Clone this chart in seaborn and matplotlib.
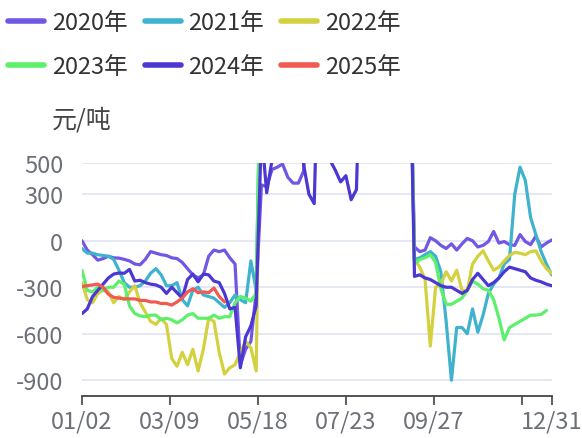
import numpy as np
import pandas as pd
import matplotlib
matplotlib.use("Agg")
import matplotlib.pyplot as plt
import seaborn as sns
from matplotlib.lines import Line2D

nan = np.nan

# ---------------- data ----------------
n_days = 268
day_step = 3
days = list(range(0, n_days, day_step))          # 90 sampled category positions

tick_pos = [0, 50, 100, 150, 200, 250, 267]
tick_labels = ["01/02", "03/09", "05/18", "07/23", "09/27", "", "12/31"]

y_ticks = [500, 300, 0, -300, -600, -900]

years = ["2020年", "2021年", "2022年", "2023年", "2024年", "2025年"]
colors = ["#7157e3", "#3fb3cd", "#d3d13f", "#5cf06b", "#4b38d3", "#f15a50"]

v2020 = ([0, -60, -90, -125, -115, -100, -110, -112, -120, -130, -150, -155, -120, -70,
          -80, -90, -95, -110, -115, -140, -180, -220, -240, -220, -100, -60, -70, -60,
          -110, -150, -800, -700, -650, -330]
         + [360, 350, 460, 475, 495, 410, 372, 372, 450, 1500]
         + [nan] * 18 + [1500]
         + [-40, -70, -60, 20, 0, -30, -50, -20, -60, -20, 15, 0, -40, -30, -5, 60, -15,
            -5, -25, -30, 40, -5, -25, 30, -40, -15, 5])

v2021 = ([-50, -80, -80, -90, -95, -100, -120, -190, -270, -300, -300, -290, -260, -210,
          -180, -220, -290, -290, -270, -380, -420, -320, -300, -350, -360, -370, -400,
          -430, -400, -350, -380, -400, -130, -320]
         + [1500] + [nan] * 27 + [1500]
         + [-120, -110, -90, -70, -100, -200, -520, -900, -560, -560, -600, -440, -590,
            -480, -340, -280, -240, -150, -120, 300, 475, 390, 150, 40, -70, -150, -220])

v2022 = ([-270, -380, -400, -340, -320, -330, -400, -360, -380, -330, -290, -400, -460,
          -520, -540, -500, -540, -760, -810, -720, -800, -700, -840, -700, -500, -520,
          -720, -860, -820, -800, -720, -650, -690, -840]
         + [1500] + [nan] * 27 + [1500]
         + [-120, -170, -250, -680, -300, -280, -200, -260, -190, -320, -320, -150, -100,
            -65, -130, -190, -170, -130, -95, -75, -80, -90, -70, -65, -130, -180, -210])

v2023 = ([-190, -320, -330, -300, -320, -300, -300, -260, -280, -420, -470, -485, -490,
          -480, -480, -510, -500, -510, -530, -510, -480, -470, -500, -500, -500, -480,
          -500, -490, -490, -400, -360, -370, -390, -340]
         + [1500] + [nan] * 27 + [1500]
         + [-150, -120, -110, -90, -140, -310, -410, -410, -390, -370, -320, -260, -280,
            -310, -320, -380, -500, -640, -560, -540, -520, -500, -480, -480, -475, -450,
            nan])

v2024 = ([-470, -440, -360, -320, -280, -240, -215, -208, -210, -185, -260, -255, -270,
          -280, -285, -300, -340, -300, -335, -370, -250, -215, -265, -215, -220, -260,
          -270, -340, -440, -430, -820, -620, -550, -420]
         + [700, 310, 520, 1500, nan, nan, nan, 1500, 490, 300, 240, 1500, 1500, 520, 455,
            380, 420, 265, 330, 1500]
         + [nan] * 8 + [1500]
         + [-230, -220, -240, -250, -270, -290, -300, -300, -320, -340, -320, -250, -210,
            -250, -290, -270, -240, -200, -170, -180, -190, -200, -240, -255, -265, -280,
            -290])

v2025 = ([-295, -290, -285, -280, -300, -345, -365, -370, -375, -375, -375, -385, -385,
          -395, -395, -405, -405, -415, -395, -370, -330, -310, -335, -330, -335, -305,
          -360, -395]
         + [nan] * 62)

series = dict(zip(years, [v2020, v2021, v2022, v2023, v2024, v2025]))

# long-form table, one "unit" per unbroken stretch so gaps stay gaps
rows = []
for name, vals in series.items():
    seg, broken = 0, True
    for d, v in zip(days, vals):
        if np.isnan(v):
            broken = True
            continue
        if broken:
            seg += 1
            broken = False
        rows.append((d, v, name, f"{name}-{seg}"))
df = pd.DataFrame(rows, columns=["day", "value", "year", "seg"])

# ---------------- figure ----------------
sns.set_theme(style="white")
plt.rcParams["font.family"] = ["Noto Sans CJK SC", "DejaVu Sans"]

W, H = 582, 439
fig = plt.figure(figsize=(W / 100, H / 100), dpi=100)
ax = fig.add_axes([82 / W, 1 - 396.7 / H, (551.7 - 82) / W, (396.7 - 164.3) / H])

sns.lineplot(data=df, x="day", y="value", hue="year", units="seg", estimator=None,
             hue_order=years, palette=dict(zip(years, colors)), linewidth=2.3,
             legend=False, ax=ax)

ax.set_xlim(0, n_days - 1)
ax.set_ylim(-1000, 500)
ax.set_yticks(y_ticks)
ax.set_yticklabels([str(t) for t in y_ticks])
ax.set_xticks(tick_pos)
ax.set_xticklabels(tick_labels)
ax.set_xlabel("")
ax.set_ylabel("")

ax.yaxis.grid(True, color="#e0e6f1", linewidth=1.3)
ax.xaxis.grid(False)
ax.set_axisbelow(True)
for s in ["top", "right", "left"]:
    ax.spines[s].set_visible(False)
ax.spines["bottom"].set_color("#444444")
ax.spines["bottom"].set_linewidth(1.3)

ax.tick_params(axis="y", length=0, pad=13.5, labelsize=17, labelcolor="#6e7079")
ax.tick_params(axis="x", length=6.5, width=1.2, color="#444444", pad=3.5,
               labelsize=17, labelcolor="#6e7079", bottom=True)

fig.text(52 / W, 1 - 121 / H, "元/吨", fontsize=18, color="#464646",
         ha="left", va="center")

# legend filled row by row: 2020 2021 2022 / 2023 2024 2025
order = [0, 3, 1, 4, 2, 5]
handles = [Line2D([0], [0], color=colors[k], lw=4) for k in order]
labels = [years[k] for k in order]
fig.legend(handles, labels, loc="upper left", bbox_to_anchor=(8 / W, 1 - 12.5 / H),
           ncol=3, frameon=False, fontsize=17, labelcolor="#333333",
           handlelength=1.53, handletextpad=0.33, columnspacing=0.72,
           labelspacing=0.88, borderpad=0, borderaxespad=0)

fig.savefig("out.png", dpi=100)
